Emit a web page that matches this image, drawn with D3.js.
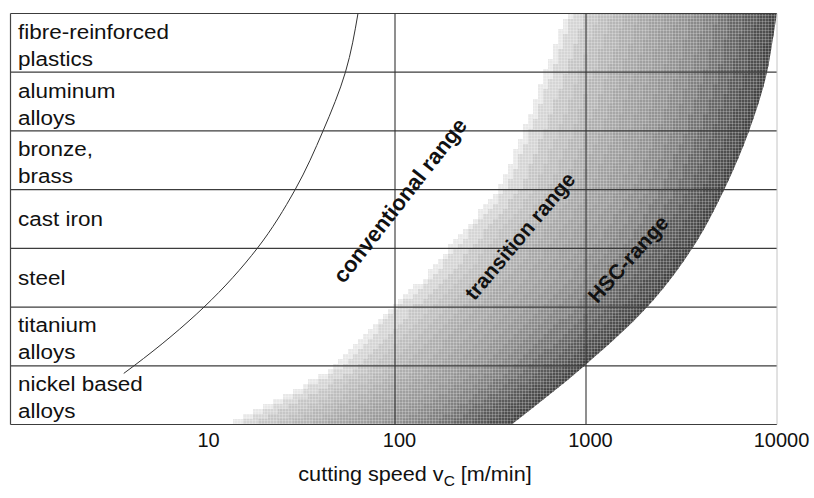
<!DOCTYPE html>
<html>
<head>
<meta charset="utf-8">
<script src="https://cdn.jsdelivr.net/npm/d3@7"></script>
<style>
  body { margin: 0; background: #fff; }
  text { font-family: "Liberation Sans", Arial, sans-serif; fill: #111; }
</style>
</head>
<body>
<script>
// materials, top row first (one entry per text line)
var materials = [
   ["fibre-reinforced", "plastics"],
   ["aluminum", "alloys"],
   ["bronze,", "brass"],
   ["cast iron"],
   ["steel"],
   ["titanium", "alloys"],
   ["nickel based", "alloys"]
];
var speedTicks = [10, 100, 1000, 10000];
var gridSpeeds = [100, 1000];

// curves: row position (0 = top edge, 7 = bottom edge) against cutting speed in m/min
var conventionalRow = [0, 1, 2, 3, 4, 5, 6, 6.13];
var conventionalSpeed = [64, 55, 42, 30, 19, 10, 4.3, 3.8];

var lightEdgeRow = [0, 1, 2, 3, 4, 4.5, 5, 6, 6.5, 7];
var lightEdgeSpeed = [790, 610, 470, 350, 189, 143, 94, 49, 27, 13];

var hscEdgeRow = [0, 0.3, 1, 2, 3, 4, 5, 6, 7];
var hscEdgeSpeed = [10000, 9660, 8870, 7140, 5290, 3600, 2090, 982, 408];

var rangeNames = ["conventional range", "transition range", "HSC-range"];
var rangeSpeed = [106, 451, 1660];
var rangeRow = [3.18, 3.79, 4.18];

var width = 814, height = 498;
var plotLeft = 10.5, plotTop = 13.5, plotBottom = 424.5, plotRight = 777;

var svg = d3.select("body").append("svg")
   .attr("width", width)
   .attr("height", height);

var x = d3.scaleLog().domain([1, 10000]).range([13, 777]);
var y = d3.scaleLinear().domain([0, 7]).range([plotTop, plotBottom]);
var rows = d3.scaleBand().domain(d3.range(materials.length)).range([plotTop, plotBottom]);

// shaded region, drawn as a grid of small cells
var lightEdge = d3.scaleLinear().domain(lightEdgeRow).range(lightEdgeSpeed.map(Math.log10));
var hscEdge = d3.scaleLinear().domain(hscEdgeRow).range(hscEdgeSpeed.map(Math.log10));
var shade = d3.scaleLinear()
   .domain([0, 0.1, 0.35, 0.55, 0.7, 0.85, 1])
   .range(["#e8e8e8", "#c9c9c9", "#a9a9a9", "#959595", "#7f7f7f", "#5f5f5f", "#444444"])
   .clamp(true);

var edgeLine = d3.line()
   .x(function (d) { return x(d[0]); })
   .y(function (d) { return y(d[1]); })
   .curve(d3.curveMonotoneY);

var hscPts = hscEdgeSpeed.map(function (v, i) { return [v, hscEdgeRow[i]]; });
svg.append("clipPath").attr("id", "hscClip")
   .append("path")
   .attr("d", edgeLine(hscPts) + "L" + plotLeft + "," + plotBottom + "L" + plotLeft + "," + plotTop + "Z");

// fine screen texture like the printed halftone
var pat = svg.append("pattern").attr("id", "screen")
   .attr("width", 3).attr("height", 3)
   .attr("patternUnits", "userSpaceOnUse");
pat.append("rect").attr("width", 3).attr("height", 1).attr("fill", "#fff").attr("opacity", 0.22);
pat.append("rect").attr("width", 1).attr("height", 3).attr("fill", "#fff").attr("opacity", 0.22);

var cell = 5;
var cells = [];
for (var cy = plotTop; cy < plotBottom; cy += cell) {
   var u = y.invert(cy + cell / 2);
   var lo = lightEdge(u), hi = hscEdge(u);
   for (var cx = 13; cx < plotRight; cx += cell) {
      var lv = Math.log10(x.invert(cx + cell / 2));
      var t = (lv - lo) / (hi - lo);
      if (t < 0 || t > 1.3) continue;
      cells.push({x: cx, y: cy, t: Math.round(Math.min(t, 1) * 16) / 16});
   }
}

var shaded = svg.append("g").attr("clip-path", "url(#hscClip)");
shaded.selectAll("rect")
   .data(cells)
   .enter().append("rect")
   .attr("x", function (d) { return d.x; })
   .attr("y", function (d) { return d.y; })
   .attr("width", cell + 0.5)
   .attr("height", function (d) { return Math.min(cell + 0.5, plotBottom - d.y); })
   .attr("fill", function (d) { return shade(d.t); })
   .attr("shape-rendering", "crispEdges");
shaded.append("rect")
   .attr("x", plotLeft).attr("y", plotTop)
   .attr("width", plotRight - plotLeft).attr("height", plotBottom - plotTop)
   .attr("fill", "url(#screen)");

// grid
svg.append("g").selectAll("line")
   .data(d3.range(materials.length + 1))
   .enter().append("line")
   .attr("x1", plotLeft).attr("x2", plotRight)
   .attr("y1", function (d) { return y(d); })
   .attr("y2", function (d) { return y(d); })
   .attr("stroke", "#3c3c3c")
   .attr("stroke-width", 1.2);

svg.append("g").selectAll("line")
   .data(gridSpeeds)
   .enter().append("line")
   .attr("x1", function (d) { return x(d); })
   .attr("x2", function (d) { return x(d); })
   .attr("y1", plotTop).attr("y2", plotBottom)
   .attr("stroke", "#333")
   .attr("stroke-width", 1.1);

svg.append("line")
   .attr("x1", plotLeft).attr("x2", plotLeft).attr("y1", plotTop).attr("y2", plotBottom)
   .attr("stroke", "#444").attr("stroke-width", 1.2);
svg.append("line")
   .attr("x1", plotRight).attr("x2", plotRight).attr("y1", plotTop).attr("y2", plotBottom)
   .attr("stroke", "#c4c4c4").attr("stroke-width", 1);

// conventional limit curve
var convPts = conventionalSpeed.map(function (v, i) { return [v, conventionalRow[i]]; });
svg.append("path")
   .attr("d", edgeLine(convPts))
   .attr("fill", "none")
   .attr("stroke", "#333")
   .attr("stroke-width", 1);

// material labels
var labels = svg.append("g").selectAll("text")
   .data(materials)
   .enter().append("text")
   .attr("font-size", 21)
   .attr("transform", function (d, i) {
      var mid = rows(i) + rows.bandwidth() / 2;
      var base = d.length == 1 ? mid + 7 : mid - 4;
      return "translate(18," + base + ") scale(1.07,1)";
   });
labels.selectAll("tspan")
   .data(function (d) { return d; })
   .enter().append("tspan")
   .attr("x", 0)
   .attr("y", function (d, j) { return j * 27; })
   .text(function (d) { return d; });

// range labels
var angles = [-52, -50, -48];
var rangeSize = [22, 21, 21];
svg.append("g").selectAll("text")
   .data(rangeNames)
   .enter().append("text")
   .attr("font-size", function (d, i) { return rangeSize[i]; })
   .attr("font-weight", "bold")
   .attr("text-anchor", "middle")
   .attr("dy", "0.35em")
   .attr("transform", function (d, i) {
      return "translate(" + x(rangeSpeed[i]) + "," + y(rangeRow[i]) + ") rotate(" + angles[i] + ")";
   })
   .text(function (d) { return d; });

// x axis
var xAxis = d3.axisBottom(x)
   .tickValues(speedTicks)
   .tickSize(0)
   .tickPadding(8)
   .tickFormat(d3.format("d"));

var ax = svg.append("g")
   .attr("transform", "translate(0," + plotBottom + ")")
   .call(xAxis);
ax.select(".domain").remove();
ax.selectAll("text")
   .attr("font-size", 20)
   .attr("font-family", "Liberation Sans, Arial, sans-serif")
   .attr("fill", "#111")
   .attr("dx", 4);

var title = svg.append("text")
   .attr("x", 415)
   .attr("y", 481)
   .attr("font-size", 21)
   .attr("text-anchor", "middle")
   .attr("transform", "translate(415,0) scale(1.03,1) translate(-415,0)");
title.append("tspan").text("cutting speed v");
title.append("tspan").attr("font-size", 15).attr("dy", 5).text("C");
title.append("tspan").attr("dy", -5).text(" [m/min]");
</script>
</body>
</html>
